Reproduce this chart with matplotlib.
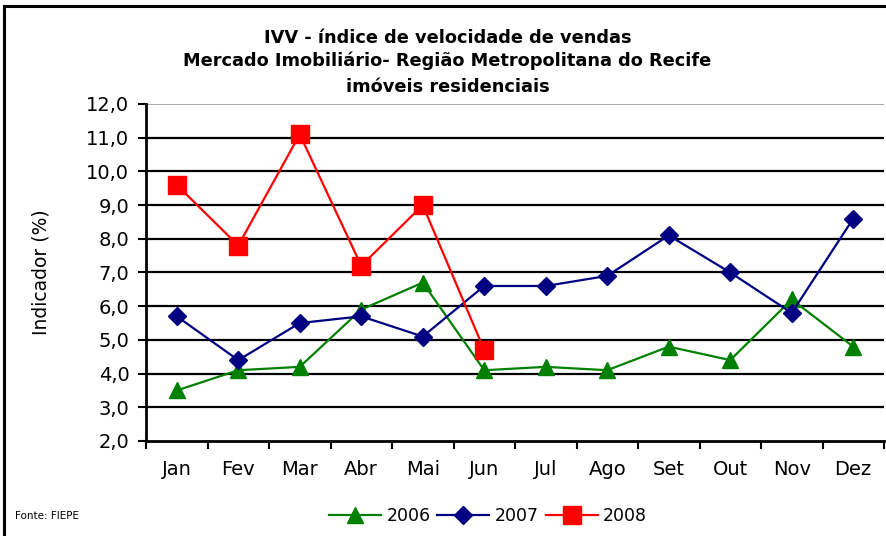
import numpy as np
import matplotlib
matplotlib.use("Agg")
import matplotlib.pyplot as plt
from matplotlib.patches import Rectangle

meses = ['Jan', 'Fev', 'Mar', 'Abr', 'Mai', 'Jun', 'Jul', 'Ago', 'Set', 'Out', 'Nov', 'Dez']
ivv_2006 = [3.5, 4.1, 4.2, 5.9, 6.7, 4.1, 4.2, 4.1, 4.8, 4.4, 6.2, 4.8]
ivv_2007 = [5.7, 4.4, 5.5, 5.7, 5.1, 6.6, 6.6, 6.9, 8.1, 7.0, 5.8, 8.6]
ivv_2008 = [9.6, 7.8, 11.1, 7.2, 9.0, 4.7]

titulo = ["IVV - índice de velocidade de vendas",
          "Mercado Imobiliário- Região Metropolitana do Recife",
          "imóveis residenciais"]

fig = plt.figure(figsize=(8.86, 5.36), dpi=100)
ax = fig.add_axes([146 / 886, 1 - 441 / 536, 738 / 886, 337 / 536])

# moldura do grafico
fig.patches.append(Rectangle((4 / 886, -0.05), 1.1, 1 - 6 / 536 + 0.05,
                             transform=fig.transFigure, fill=False,
                             edgecolor='black', linewidth=2.2))

x = np.arange(len(meses))
l1, = ax.plot(x, ivv_2006, color='#008000', lw=1.6, marker='^', ms=12, label='2006')
l2, = ax.plot(x, ivv_2007, color='#000080', lw=1.6, marker='D', ms=9, label='2007')
l3, = ax.plot(x[:len(ivv_2008)], ivv_2008, color='#ff0000', lw=1.6, marker='s', ms=13,
              label='2008')

ax.set_xlim(-0.5, len(meses) - 0.5)
ax.set_ylim(2, 12)
yt = np.arange(2, 13)
ax.set_yticks(yt)
ax.set_yticklabels([f'{v:.1f}'.replace('.', ',') for v in yt], fontsize=14)
for v in yt[1:-1]:
    ax.axhline(v, color='black', lw=1.6, zorder=0)
ax.axhline(12, color='#999999', lw=1.2, zorder=0)

ax.set_xticks(x)
ax.set_xticklabels(meses, fontsize=14)
ax.set_xticks(np.arange(-0.5, len(meses)), minor=True)
ax.tick_params(axis='x', which='major', length=0, pad=14)
ax.tick_params(axis='x', which='minor', length=6, width=1.5, direction='out')
ax.tick_params(axis='y', length=6, width=1.5, direction='out', pad=6)

for s in ['top', 'right']:
    ax.spines[s].set_visible(False)
for s in ['left', 'bottom']:
    ax.spines[s].set_linewidth(2)

ax.set_ylabel('Indicador (%)', fontsize=13.5)
ax.yaxis.set_label_coords(-0.13, 0.5)

for txt, yy in zip(titulo, [38, 61, 87]):
    fig.text(0.505, 1 - yy / 536, txt, ha='center', va='center',
             fontsize=12.8, fontweight='bold')

fig.text(15 / 886, 1 - 516 / 536, 'Fonte: FIEPE', fontsize=7.5, va='center')

fig.legend(handles=[l1, l2, l3], loc='center', bbox_to_anchor=(488 / 886, 1 - 516 / 536),
           ncol=3, frameon=False, fontsize=12.5, handlelength=3,
           columnspacing=0.4, handletextpad=0.3, markerscale=1.0)

fig.savefig('out.png', dpi=100)
